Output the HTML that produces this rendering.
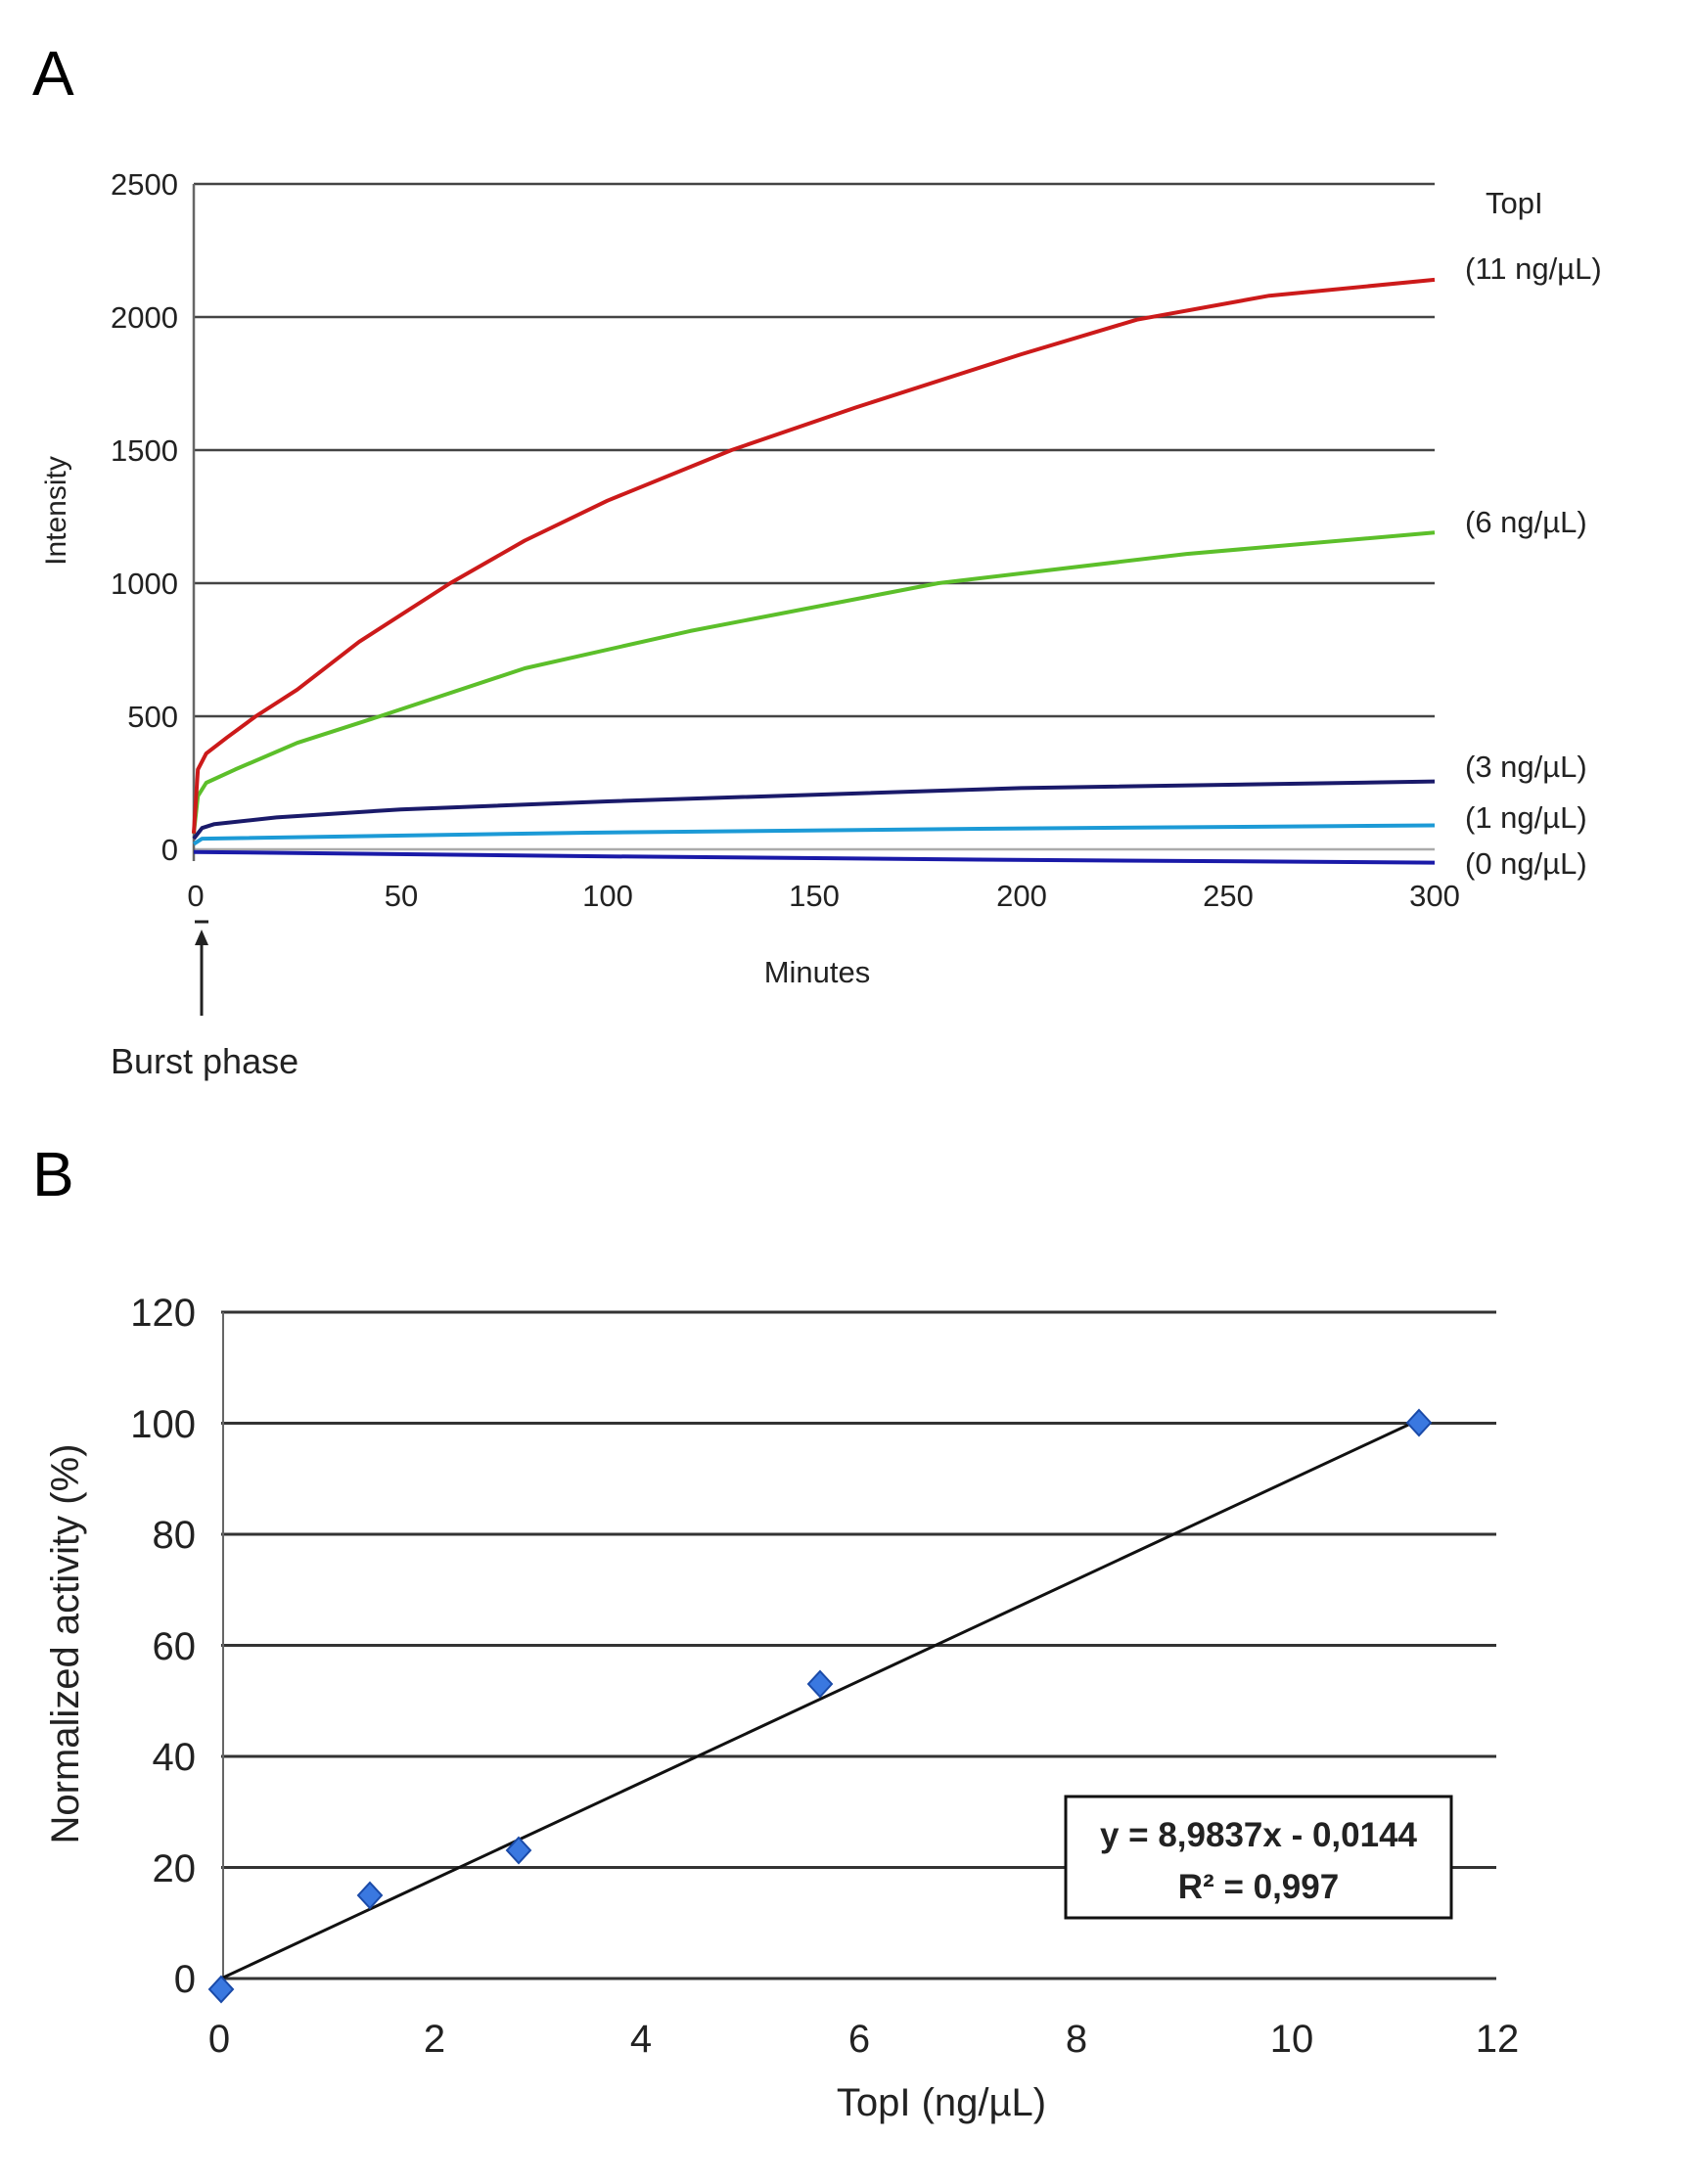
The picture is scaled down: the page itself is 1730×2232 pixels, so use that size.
<!DOCTYPE html>
<html><head><meta charset="utf-8"><style>body{margin:0;background:#fff}svg{display:block}text{font-family:"Liberation Sans",sans-serif}</style></head><body>
<svg width="1730" height="2232" viewBox="0 0 1730 2232" xmlns="http://www.w3.org/2000/svg">
<rect width="1730" height="2232" fill="#fff"/>
<text x="33" y="97" font-size="64">A</text>
<g stroke="#444" stroke-width="2.5">
<line x1="198" y1="188" x2="1466" y2="188"/><line x1="198" y1="324" x2="1466" y2="324"/><line x1="198" y1="460" x2="1466" y2="460"/><line x1="198" y1="596" x2="1466" y2="596"/><line x1="198" y1="732" x2="1466" y2="732"/>
<line x1="198" y1="868" x2="1466" y2="868" stroke="#aaa"/>
<line x1="198" y1="188" x2="198" y2="880" stroke="#666"/>
</g>
<g font-size="31" text-anchor="end" fill="#222">
<text x="182" y="199">2500</text><text x="182" y="335">2000</text><text x="182" y="471">1500</text><text x="182" y="607">1000</text><text x="182" y="743">500</text><text x="182" y="879">0</text>
</g>
<g font-size="31" text-anchor="middle" fill="#222">
<text x="200" y="926">0</text><text x="410" y="926">50</text><text x="621" y="926">100</text><text x="832" y="926">150</text><text x="1044" y="926">200</text><text x="1255" y="926">250</text><text x="1466" y="926">300</text>
<text x="835" y="1004">Minutes</text>
</g>
<text transform="translate(67,522) rotate(-90)" font-size="30" text-anchor="middle" fill="#222">Intensity</text>
<g fill="none" stroke-width="4" stroke-linejoin="round">
<polyline stroke="#1a1aa8" points="198,870.7 600,875 1000,878.5 1466,881.6"/>
<polyline stroke="#1c9ad6" points="198,862.6 206.5,857.1 600,851 1000,847 1466,843.5"/>
<polyline stroke="#1a1a6a" points="198,857.1 206.5,846.2 219.1,842.2 282.5,835.4 409.4,827.2 620.7,819 1043.4,805.4 1466,798.6"/>
<polyline stroke="#5cbf2a" points="198,851.7 202.2,813.6 210.7,800 240.3,786.4 303.7,759.2 388.2,732 536.2,683 705.2,644.9 958.9,596 1212.5,566.1 1466,544.3"/>
<polyline stroke="#cc1a1a" points="198,851.7 202.2,786.4 210.7,770.1 231.8,753.8 261.4,732 303.7,704.8 367.1,655.8 460.1,596 536.2,552.5 620.7,511.7 747.5,460 874.3,416.5 1043.4,362.1 1161.8,326.7 1297,302.2 1466,285.9"/>
</g>
<g font-size="31" fill="#222">
<text x="1518" y="218">TopI</text>
<text x="1497" y="285">(11 ng/µL)</text>
<text x="1497" y="544">(6 ng/µL)</text>
<text x="1497" y="794">(3 ng/µL)</text>
<text x="1497" y="846">(1 ng/µL)</text>
<text x="1497" y="893">(0 ng/µL)</text>
<text x="113" y="1097" font-size="36">Burst phase</text>
</g>
<line x1="199" y1="942" x2="213" y2="942" stroke="#222" stroke-width="3"/>
<line x1="206" y1="958" x2="206" y2="1038" stroke="#222" stroke-width="3"/>
<polygon points="206,950 199,966 213,966" fill="#222"/>
<text x="33" y="1222" font-size="64">B</text>
<g stroke="#333" stroke-width="3">
<line x1="226" y1="1341" x2="1529" y2="1341"/><line x1="226" y1="1454.5" x2="1529" y2="1454.5"/><line x1="226" y1="1568" x2="1529" y2="1568"/><line x1="226" y1="1681.5" x2="1529" y2="1681.5"/><line x1="226" y1="1795" x2="1529" y2="1795"/><line x1="226" y1="1908.5" x2="1529" y2="1908.5"/><line x1="226" y1="2022" x2="1529" y2="2022"/>
<line x1="228" y1="1341" x2="228" y2="2022" stroke="#666" stroke-width="2"/>
</g>
<g font-size="40" text-anchor="end" fill="#222">
<text x="200" y="1355">120</text><text x="200" y="1469">100</text><text x="200" y="1582">80</text><text x="200" y="1696">60</text><text x="200" y="1809">40</text><text x="200" y="1923">20</text><text x="200" y="2036">0</text>
</g>
<g font-size="40" text-anchor="middle" fill="#222">
<text x="224" y="2097">0</text><text x="444" y="2097">2</text><text x="655" y="2097">4</text><text x="878" y="2097">6</text><text x="1100" y="2097">8</text><text x="1320" y="2097">10</text><text x="1530" y="2097">12</text>
<text x="962" y="2162">TopI (ng/µL)</text>
</g>
<text transform="translate(80,1680) rotate(-90)" font-size="40" text-anchor="middle" fill="#222">Normalized activity (%)</text>
<line x1="226" y1="2022" x2="1450" y2="1451" stroke="#111" stroke-width="3"/>
<g fill="#3a78e0" stroke="#1a4aa8" stroke-width="2">
<polygon points="226,2020 238,2033 226,2046 214,2033"/>
<polygon points="378,1924 390,1937 378,1950 366,1937"/>
<polygon points="530,1878 542,1891 530,1904 518,1891"/>
<polygon points="838,1708 850,1721 838,1734 826,1721"/>
<polygon points="1450,1441 1462,1454 1450,1467 1438,1454"/>
</g>
<rect x="1089" y="1836" width="394" height="124" fill="#fff" stroke="#111" stroke-width="3"/>
<g font-size="35" font-weight="bold" text-anchor="middle" fill="#222">
<text x="1286" y="1887">y = 8,9837x - 0,0144</text>
<text x="1286" y="1940">R² = 0,997</text>
</g>
</svg>
</body></html>
